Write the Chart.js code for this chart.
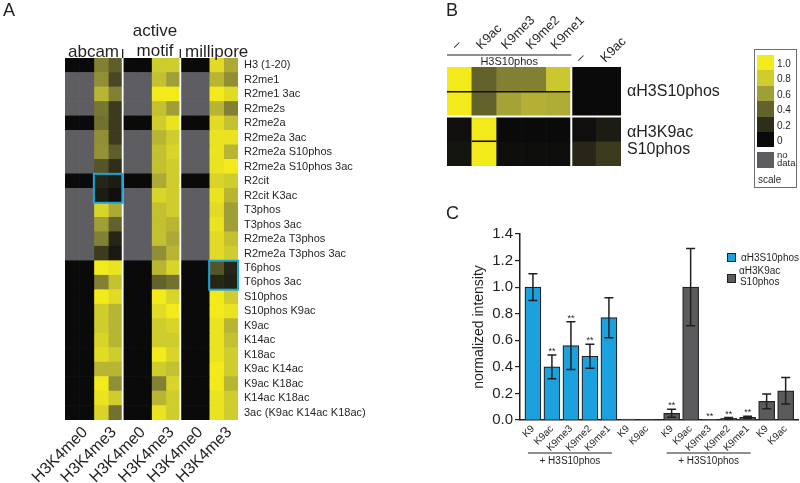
<!DOCTYPE html>
<html lang="en">
<head>
<meta charset="UTF-8" />
<title>Histone antibody specificity</title>
<script src="https://cdn.jsdelivr.net/npm/chart.js"></script>
<style>
  body { margin: 0; background: #fff; font-family: "Liberation Sans", Arial, sans-serif; color: #231f20; }
  #page { position: relative; width: 800px; height: 483px; overflow: hidden; }
  #page canvas, #page .txt { position: absolute; }
  .letter { font-size: 18px; line-height: 18px; }
  .group { font-size: 17px; line-height: 17px; white-space: nowrap; }
  #scaleBox { position: absolute; left: 754px; top: 49px; width: 41px; height: 137px; border: 1px solid #6d6e71; font-size: 10px; }
  .sw { position: absolute; left: 2px; width: 17px; }
  .swl { position: absolute; left: 22px; line-height: 10px; }
  .legC { position: absolute; font-size: 10px; line-height: 11px; }
  .legBox { position: absolute; width: 7px; height: 7px; border: 1px solid #231f20; }
</style>
</head>
<body>
<div id="page">
  <canvas id="heatA" width="420" height="483" style="left:0;top:0"></canvas>
  <canvas id="heatB" width="335" height="190" style="left:420px;top:0"></canvas>
  <canvas id="barsC" width="370" height="293" style="left:430px;top:190px"></canvas>

  <div class="txt letter" style="left:3px;top:1px">A</div>
  <div class="txt letter" style="left:446px;top:1px">B</div>
  <div class="txt letter" style="left:446px;top:204px">C</div>

  <div class="txt group" style="left:68px;top:43px">abcam</div>
  <div class="txt group" style="left:125px;top:21px;width:60px;text-align:center;line-height:20px">active<br>motif</div>
  <div class="txt group" style="left:185px;top:43px">millipore</div>

  <div id="scaleBox"></div>

  <div class="legBox" style="left:727px;top:253px;background:#1ba1dd"></div>
  <div class="legC" style="left:741px;top:252px">αH3S10phos</div>
  <div class="legBox" style="left:727px;top:274px;background:#5b5b5d"></div>
  <div class="legC" style="left:739px;top:265px;text-align:center">αH3K9ac<br>S10phos</div>
</div>

<script>
  // ---- panel A: peptide array (rows = peptides, columns = antibody / H3K4 state / replicate)
  const rowLabels = ["H3 (1-20)", "R2me1", "R2me1 3ac", "R2me2s", "R2me2a", "R2me2a 3ac", "R2me2a S10phos",
    "R2me2a S10phos 3ac", "R2cit", "R2cit K3ac", "T3phos", "T3phos 3ac", "R2me2a T3phos", "R2me2a T3phos 3ac",
    "T6phos", "T6phos 3ac", "S10phos", "S10phos K9ac", "K9ac", "K14ac", "K18ac", "K9ac K14ac", "K9ac K18ac",
    "K14ac K18ac", "3ac (K9ac K14ac K18ac)"];
  const probeLabels = ["H3K4me0", "H3K4me3"];
  const N = null; // no data
  const me0Values = [0, N, N, N, 0, N, N, N, 0, N, N, N, N, N, 0, 0, 0, 0, 0, 0, 0, 0, 0, 0, 0];
  const abcamMe3a = [0.5, 0.55, 0.7, 0.47, 0.45, 0.55, 0.56, 0.35, 0.15, 0.1, 0.85, 0.6, 0.5, 0.25, 1.0, 0.5, 1.0, 0.8, 0.8, 0.85, 0.9, 0.7, 1.0, 0.95, 0.85];
  const abcamMe3b = [0.38, 0.3, 0.5, 0.25, 0.25, 0.25, 0.38, 0.2, 0.1, 0.03, 0.65, 0.4, 0.15, 0.08, 0.95, 0.75, 0.9, 0.7, 0.7, 0.7, 0.8, 0.7, 0.55, 0.8, 0.45];
  const motifMe3a = [0.8, 0.75, 1.0, 0.75, 0.8, 0.7, 0.75, 0.75, 0.65, 0.85, 0.75, 0.75, 0.75, 0.55, 0.7, 0.4, 1.0, 0.9, 0.8, 0.8, 1.0, 0.8, 0.5, 0.7, 0.95];
  const motifMe3b = [0.8, 0.6, 1.0, 0.6, 0.95, 0.8, 0.85, 0.8, 0.8, 0.8, 0.8, 0.7, 0.65, 0.7, 0.85, 0.45, 0.85, 1.0, 0.85, 0.8, 0.85, 0.75, 0.85, 0.8, 0.8];
  const milliMe3a = [0.9, 0.7, 1.0, 0.7, 0.9, 0.95, 0.95, 0.95, 0.85, 0.95, 0.9, 0.95, 0.9, 0.9, 0.35, 0.15, 1.0, 1.0, 0.95, 0.95, 0.95, 1.0, 1.0, 0.95, 0.95];
  const milliMe3b = [0.65, 0.55, 0.9, 0.5, 0.75, 0.95, 0.7, 1.0, 0.8, 0.7, 0.6, 0.6, 0.75, 0.8, 0.15, 0.12, 0.8, 0.95, 0.7, 0.75, 0.8, 0.8, 0.7, 0.8, 0.8];

  // ---- panel B: dot blot (rows = antibody replicate, columns = peptide)
  const peptideLabels = ["–", "K9ac", "K9me3", "K9me2", "K9me1", "–", "K9ac"];
  const antibodyLabels = ["αH3S10phos", ["αH3K9ac", "S10phos"]];
  const s10Rep1 = [1.0, 0.4, 0.5, 0.5, 0.78, 0, 0];
  const s10Rep2 = [1.0, 0.4, 0.62, 0.68, 0.66, 0, 0];
  const k9s10Rep1 = [0.03, 1.0, 0, 0, 0, 0.03, 0.1];
  const k9s10Rep2 = [0.06, 1.0, 0.02, 0.02, 0.02, 0.16, 0.25];
  const scaleTicks = [1.0, 0.8, 0.6, 0.4, 0.2, 0];

  // ---- panel C: normalized intensity
  const barLabels = ["K9", "K9ac", "K9me3", "K9me2", "K9me1", "K9", "K9ac"];
  const s10Means = [1.0, 0.40, 0.56, 0.48, 0.77, 0.006, 0.004];
  const s10Errors = [0.10, 0.09, 0.18, 0.09, 0.15, 0, 0];
  const s10Stars = [0, 1, 1, 1, 0, 0, 0];
  const k9s10Means = [0.05, 1.0, 0.002, 0.012, 0.02, 0.14, 0.22];
  const k9s10Errors = [0.03, 0.29, 0, 0.006, 0.008, 0.055, 0.10];
  const k9s10Stars = [1, 0, 1, 1, 1, 0, 0];

  Chart.defaults.font.family = '"Liberation Sans", Arial, sans-serif';
  Chart.defaults.color = "#231f20";
  Chart.defaults.animation = false;
  Chart.defaults.responsive = false;
  Chart.defaults.plugins.legend.display = false;
  Chart.defaults.plugins.tooltip.enabled = false;

  const heatStops = [[0, [10, 10, 11]], [0.2, [47, 46, 26]], [0.4, [99, 98, 45]], [0.6, [160, 158, 55]], [0.8, [207, 204, 46]], [1, [243, 234, 27]]];
  function heatColor(v) {
    if (v === null) return "#5e5d62";
    for (let i = 1; i < heatStops.length; i++) {
      const [v0, c0] = heatStops[i - 1], [v1, c1] = heatStops[i];
      if (v <= v1) {
        const t = (v - v0) / (v1 - v0);
        return "rgb(" + c0.map((c, k) => Math.round(c + (c1[k] - c) * t)).join(",") + ")";
      }
    }
    return "rgb(243,234,27)";
  }

  // ---------- A
  const columnsA = [me0Values, me0Values, abcamMe3a, abcamMe3b, me0Values, me0Values, motifMe3a, motifMe3b,
    me0Values, me0Values, milliMe3a, milliMe3b];
  const boxesA = [{ col: 2, row: 8 }, { col: 10, row: 14 }];

  const decorA = {
    id: "decorA",
    afterDatasetsDraw(chart) {
      const { ctx, chartArea: a, scales: { x, y } } = chart;
      ctx.save();
      [4, 8].forEach(v => {
        const px = x.getPixelForValue(v);
        ctx.strokeStyle = "#fff"; ctx.lineWidth = 1.8;
        ctx.beginPath(); ctx.moveTo(px, a.top); ctx.lineTo(px, a.bottom); ctx.stroke();
        ctx.strokeStyle = "#231f20"; ctx.lineWidth = 1.3;
        ctx.beginPath(); ctx.moveTo(px, a.top - 9); ctx.lineTo(px, a.top); ctx.stroke();
      });
      const rowH = y.getPixelForValue(1) - y.getPixelForValue(0);
      boxesA.forEach(b => {
        const x0 = x.getPixelForValue(b.col), x1 = x.getPixelForValue(b.col + 2);
        const y0 = y.getPixelForValue(b.row) - rowH / 2, y1 = y.getPixelForValue(b.row + 1) + rowH / 2;
        ctx.strokeStyle = "#1ba6df"; ctx.lineWidth = 2;
        ctx.strokeRect(x0, y0, x1 - x0, y1 - y0);
      });
      ctx.restore();
    }
  };

  new Chart(document.getElementById("heatA"), {
    type: "bar",
    data: {
      labels: rowLabels,
      datasets: columnsA.map(col => ({
        data: col.map(() => 1),
        backgroundColor: col.map(heatColor),
        borderWidth: 0,
        barPercentage: 1,
        categoryPercentage: 1
      }))
    },
    options: {
      indexAxis: "y",
      layout: { padding: { left: 65, top: 58 } },
      scales: {
        x: {
          stacked: true, min: 0, max: columnsA.length,
          grid: { display: false, drawTicks: false }, border: { display: false },
          afterBuildTicks: ax => { ax.ticks = [0, 1, 2, 3, 4, 5].map(g => ({ value: g * 2 + 1.4 })); },
          afterFit: ax => { ax.height = 63; },
          ticks: { autoSkip: false, minRotation: 45, maxRotation: 45, padding: 3, font: { size: 16 },
                   callback: (v, i) => probeLabels[i % 2] }
        },
        y: {
          stacked: true, position: "right",
          grid: { display: false, drawTicks: false }, border: { display: false },
          afterFit: ax => { ax.width = 182; },
          ticks: { autoSkip: false, padding: 6, font: { size: 11 } }
        }
      }
    },
    plugins: [decorA]
  });

  // ---------- B
  const decorB = {
    id: "decorB",
    afterDatasetsDraw(chart) {
      const { ctx, chartArea: a, scales: { x, y } } = chart;
      const half = (x.getPixelForValue(1) - x.getPixelForValue(0)) / 2;
      const line = (x0, y0, x1, y1) => { ctx.beginPath(); ctx.moveTo(x0, y0); ctx.lineTo(x1, y1); ctx.stroke(); };
      const left = x.getPixelForValue(0) - half, right5 = x.getPixelForValue(4) + half;
      ctx.save();
      ctx.strokeStyle = "#111"; ctx.lineWidth = 1.6;
      line(left, y.getPixelForValue(1), right5, y.getPixelForValue(1));
      line(x.getPixelForValue(1) - half, y.getPixelForValue(3), x.getPixelForValue(1) + half, y.getPixelForValue(3));
      ctx.strokeStyle = "#fff"; ctx.lineWidth = 2;
      line(a.left, y.getPixelForValue(2), a.right, y.getPixelForValue(2));
      line(right5, a.top, right5, a.bottom);

      ctx.strokeStyle = "#231f20"; ctx.lineWidth = 1;
      line(left, a.top - 12, right5, a.top - 12);
      ctx.fillStyle = "#231f20";
      ctx.font = '11px "Liberation Sans", Arial, sans-serif';
      ctx.textAlign = "center"; ctx.textBaseline = "middle";
      ctx.fillText("H3S10phos", (left + right5) / 2, a.top - 5);

      ctx.font = '13px "Liberation Sans", Arial, sans-serif';
      ctx.textAlign = "left"; ctx.textBaseline = "alphabetic";
      peptideLabels.forEach((lab, i) => {
        const px = x.getPixelForValue(i);
        const base = i < 5 ? a.top - 17 : a.top - 4;
        ctx.save();
        ctx.translate(px - 3, base);
        ctx.rotate(-Math.PI / 4);
        ctx.fillText(lab, 0, 0);
        ctx.restore();
      });
      ctx.restore();
    }
  };

  new Chart(document.getElementById("heatB"), {
    type: "bar",
    data: {
      labels: peptideLabels,
      datasets: [s10Rep1, s10Rep2, k9s10Rep1, k9s10Rep2].map(row => ({
        data: row.map(() => 1),
        backgroundColor: row.map(heatColor),
        borderWidth: 0,
        barPercentage: 1,
        categoryPercentage: 1
      }))
    },
    options: {
      layout: { padding: { left: 27, top: 67, bottom: 24 } },
      scales: {
        x: { stacked: true, display: false },
        y: {
          stacked: true, min: 0, max: 4, reverse: true, position: "right",
          grid: { display: false, drawTicks: false }, border: { display: false },
          afterBuildTicks: ax => { ax.ticks = [1, 3].map(v => ({ value: v })); },
          afterFit: ax => { ax.width = 134; },
          ticks: { padding: 6, font: { size: 16, lineHeight: 1.1 }, callback: (v, i) => antibodyLabels[i] }
        }
      }
    },
    plugins: [decorB]
  });

  // scale legend
  const scaleBox = document.getElementById("scaleBox");
  scaleTicks.forEach((v, i) => {
    const top = 5 + i * 15.4;
    scaleBox.insertAdjacentHTML("beforeend",
      `<div class="sw" style="top:${top}px;height:15.4px;background:${heatColor(v)}"></div>` +
      `<div class="swl" style="top:${top + 4}px">${v === 0 ? "0" : v.toFixed(1)}</div>`);
  });
  scaleBox.insertAdjacentHTML("beforeend",
    `<div class="sw" style="top:102px;height:16px;background:${heatColor(null)}"></div>` +
    `<div class="swl" style="top:101px;line-height:8px;font-size:9.5px">no<br>data</div>` +
    `<div class="swl" style="top:125px;left:3px">scale</div>`);

  // ---------- C
  const groupGap = 0.3;
  const slotOf = (g, i) => g * (barLabels.length + groupGap) + i;
  const allSlots = [0, 1].flatMap(g => barLabels.map((_, i) => slotOf(g, i)));

  const errorBarsC = {
    id: "errorBarsC",
    afterDraw(chart) {
      const { ctx, chartArea: a, scales: { x, y } } = chart;
      ctx.save();
      ctx.strokeStyle = "#231f20";
      ctx.fillStyle = "#231f20";
      chart.data.datasets.forEach(ds => {
        ds.data.forEach((pt, i) => {
          const px = x.getPixelForValue(pt.x);
          const err = ds.errors[i];
          let top = y.getPixelForValue(pt.y);
          if (err > 0) {
            top = y.getPixelForValue(pt.y + err);
            const bot = y.getPixelForValue(Math.max(pt.y - err, 0));
            ctx.lineWidth = 1.5;
            ctx.beginPath();
            ctx.moveTo(px, top); ctx.lineTo(px, bot);
            ctx.moveTo(px - 4.5, top); ctx.lineTo(px + 4.5, top);
            ctx.moveTo(px - 4.5, bot); ctx.lineTo(px + 4.5, bot);
            ctx.stroke();
          }
          if (ds.stars[i]) {
            ctx.font = '9px "Liberation Sans", Arial, sans-serif';
            ctx.textAlign = "center"; ctx.textBaseline = "alphabetic";
            ctx.fillText("**", px, top - 1);
          }
        });
      });
      // "+ H3S10phos" brackets under the first five bars of each group
      ctx.lineWidth = 1;
      ctx.font = '10px "Liberation Sans", Arial, sans-serif';
      ctx.textAlign = "center"; ctx.textBaseline = "middle";
      [0, 1].forEach(g => {
        const x0 = x.getPixelForValue(slotOf(g, 0)) - 5, x1 = x.getPixelForValue(slotOf(g, 4)) + 3;
        ctx.beginPath(); ctx.moveTo(x0, a.bottom + 33); ctx.lineTo(x1, a.bottom + 33); ctx.stroke();
        ctx.fillText("+ H3S10phos", (x0 + x1) / 2, a.bottom + 41);
      });
      ctx.restore();
    }
  };

  new Chart(document.getElementById("barsC"), {
    type: "bar",
    data: {
      datasets: [
        { label: "αH3S10phos", data: s10Means.map((v, i) => ({ x: slotOf(0, i), y: v })),
          errors: s10Errors, stars: s10Stars, backgroundColor: "#1ba1dd" },
        { label: "αH3K9ac S10phos", data: k9s10Means.map((v, i) => ({ x: slotOf(1, i), y: v })),
          errors: k9s10Errors, stars: k9s10Stars, backgroundColor: "#5b5b5d" }
      ]
    },
    options: {
      layout: { padding: { left: 36, top: 44, right: 2 } },
      datasets: { bar: { grouped: false, barPercentage: 1, categoryPercentage: 1, maxBarThickness: 16,
                         borderWidth: 1.2, borderColor: "#231f20" } },
      scales: {
        x: {
          type: "linear", min: -0.68, max: 13.95, offset: false,
          grid: { display: false, drawTicks: false }, border: { color: "#231f20", width: 1.5 },
          afterBuildTicks: ax => { ax.ticks = allSlots.map(v => ({ value: v })); },
          afterFit: ax => { ax.height = 63; },
          ticks: { autoSkip: false, minRotation: 45, maxRotation: 45, padding: 3, font: { size: 10 },
                   callback: (v, i) => barLabels[i % barLabels.length] }
        },
        y: {
          min: 0, max: 1.4,
          grid: { drawOnChartArea: false, tickLength: 5, color: "#231f20", lineWidth: 1.2 },
          border: { color: "#231f20", width: 1.5 },
          afterFit: ax => { ax.width = 54; },
          title: { display: true, text: "normalized intensity", font: { size: 14 }, padding: { top: 5, bottom: 0 } },
          ticks: { stepSize: 0.2, padding: 2, font: { size: 15 }, callback: v => v.toFixed(1) }
        }
      }
    },
    plugins: [errorBarsC]
  });
</script>
</body>
</html>
